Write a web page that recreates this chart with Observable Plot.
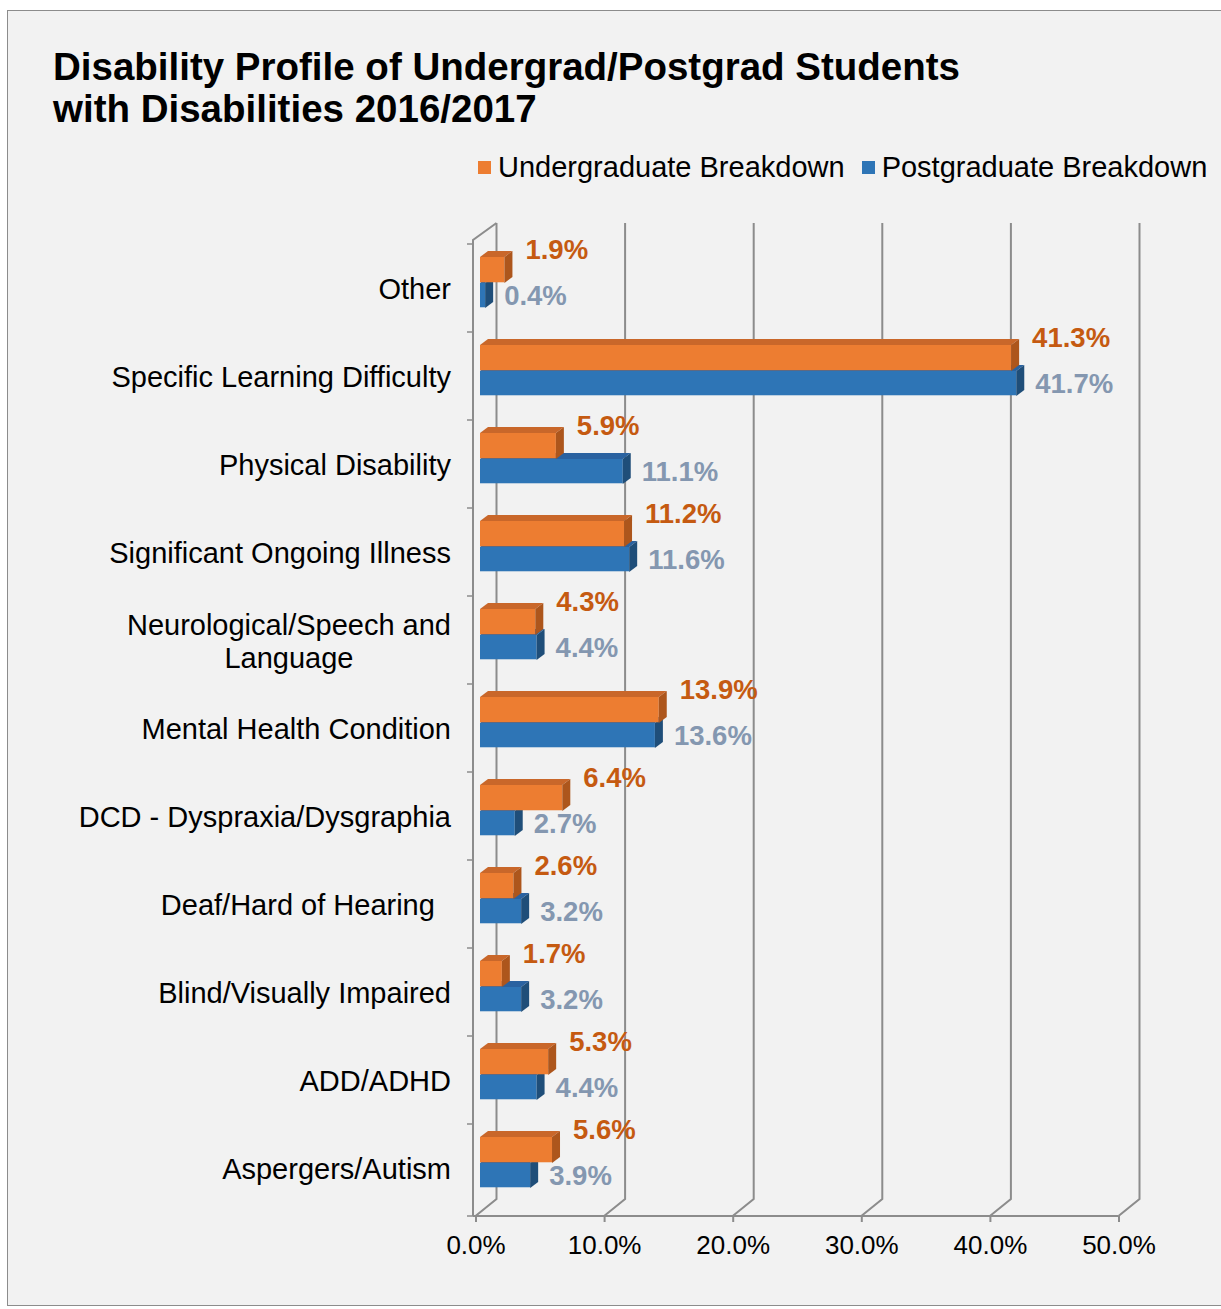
<!DOCTYPE html>
<html><head><meta charset="utf-8">
<script src="https://cdn.jsdelivr.net/npm/d3@7"></script>
<script src="https://cdn.jsdelivr.net/npm/@observablehq/plot@0.6"></script>
<style>
html,body{margin:0;padding:0;background:#fff;overflow:hidden;width:1221px;height:1309px;}
#frame{position:absolute;left:7px;top:10px;width:1240px;height:1294px;border:1.5px solid #8c8c8c;background:#f2f2f2;}
#title{position:absolute;left:53px;top:46px;font:bold 38.5px/42px "Liberation Sans",Arial,sans-serif;color:#000;white-space:nowrap}
#legend{position:absolute;left:478px;top:153px;font:29px/29px "Liberation Sans",Arial,sans-serif;display:flex;align-items:center;white-space:nowrap;color:#000}
.sw{display:inline-block;width:13px;height:13px;margin-right:7px}
.item{display:flex;align-items:center;margin-right:17px}
#chart{position:absolute;left:0;top:190px}
</style></head><body>
<div id="frame"></div>
<div id="title">Disability Profile of Undergrad/Postgrad Students<br>with Disabilities 2016/2017</div>
<div id="legend"></div>
<div id="chart"></div>
<script>
const categories = ["Other", "Specific Learning Difficulty", "Physical Disability", "Significant Ongoing Illness",
  "Neurological/Speech and\nLanguage", "Mental Health Condition", "DCD - Dyspraxia/Dysgraphia",
  "Deaf/Hard of Hearing\u00a0\u00a0", "Blind/Visually Impaired", "ADD/ADHD", "Aspergers/Autism"];
const undergrad = [1.9, 41.3, 5.9, 11.2, 4.3, 13.9, 6.4, 2.6, 1.7, 5.3, 5.6];
const postgrad  = [0.4, 41.7, 11.1, 11.6, 4.4, 13.6, 2.7, 3.2, 3.2, 4.4, 3.9];
const xTicks = [0, 10, 20, 30, 40, 50];
const seriesNames = ["Undergraduate Breakdown", "Postgraduate Breakdown"];

const rows = categories.map((c, i) => ({category: c, ug: undergrad[i], pg: postgrad[i]}));

const W = 1221, H = 1100, ML = 475.5, MR = 102.5, MT = 50, MB = 74;
const DX = 21, DY = -17;      // wall depth
const BX = 8, BY = -6;        // bar depth
const BAR_DX = 4.5;
const ORANGE = {front: "#ed7d31", top: "#c9672a", side: "#ad561c"};
const BLUE = {front: "#2e75b6", top: "#2a62a0", side: "#1f4e79"};
const GRID = "#8c8c8c";
const UG_TOP = 13, UG_BOT = 39, PG_TOP = 39, PG_BOT = 64;
const bw = (H - MT - MB) / categories.length;

// legend
const legend = document.getElementById("legend");
[[ORANGE.front, seriesNames[0]], [BLUE.front, seriesNames[1]]].forEach(([c, t]) => {
  const it = document.createElement("span"); it.className = "item";
  const sw = document.createElement("span"); sw.className = "sw"; sw.style.background = c;
  it.appendChild(sw); it.appendChild(document.createTextNode(t)); legend.appendChild(it);
});

function wall(index, scales, values, dim) {
  const g = d3.create("svg:g").attr("fill", "none").attr("stroke", GRID).attr("stroke-width", 2);
  const x = scales.x, y = scales.y;
  const top = dim.marginTop, bot = dim.height - dim.marginBottom;
  for (const t of xTicks) {
    const px = x(t);
    g.append("path").attr("d", `M${px + DX},${top + DY}V${bot + DY}L${px},${bot}`);
  }
  const x0 = x(0) - 2.5;
  g.append("path").attr("d", `M${x0},${bot}V${top}L${x(0) + DX},${top + DY}`);
  g.append("path").attr("d", `M${x0},${bot}H${x(xTicks[xTicks.length - 1])}`);
  const ty = categories.map(c => y(c)).concat([bot]);
  for (const v of ty) g.append("path").attr("stroke-width", 1.5).attr("d", `M${x0 - 6},${v}H${x0}`);
  return g.node();
}

function faces(key, col, t0, t1) {
  return (index, scales) => {
    const g = d3.create("svg:g");
    for (const r of rows) {
      const xa = scales.x(0) + BAR_DX, xb = scales.x(r[key]) + BAR_DX;
      const ya = scales.y(r.category) + t0, yb = scales.y(r.category) + t1;
      g.append("path").attr("fill", col.top).attr("d", `M${xa},${ya}L${xa + BX},${ya + BY}H${xb + BX}L${xb},${ya}Z`);
      g.append("path").attr("fill", col.side).attr("d", `M${xb},${ya}L${xb + BX},${ya + BY}V${yb + BY}L${xb},${yb}Z`);
    }
    return g.node();
  };
}

const chart = Plot.plot({
  width: W, height: H, marginLeft: ML, marginRight: MR, marginTop: MT, marginBottom: MB,
  style: {background: "transparent", fontFamily: "'Liberation Sans', Arial, sans-serif", color: "#000", maxWidth: "none", overflow: "visible"},
  x: {domain: [0, 50]},
  y: {domain: categories, padding: 0},
  marks: [
    wall,
    Plot.barX(rows, {y: "category", x: "pg", fill: BLUE.front, insetTop: PG_TOP, insetBottom: bw - PG_BOT, dx: BAR_DX}),
    faces("pg", BLUE, PG_TOP, PG_BOT),
    Plot.barX(rows, {y: "category", x: "ug", fill: ORANGE.front, insetTop: UG_TOP, insetBottom: bw - UG_BOT, dx: BAR_DX}),
    faces("ug", ORANGE, UG_TOP, UG_BOT),
    Plot.text(rows, {y: "category", x: "ug", text: d => d.ug.toFixed(1) + "%", textAnchor: "start", dx: 25, dy: -38,
      fill: "#c55a11", fontWeight: "bold", fontSize: 27.5}),
    Plot.text(rows, {y: "category", x: "pg", text: d => d.pg.toFixed(1) + "%", textAnchor: "start", dx: 23, dy: 8,
      fill: "#8497b0", fontWeight: "bold", fontSize: 27.5}),
    Plot.axisY({tickSize: 0, tickPadding: 25, fontSize: 29, lineHeight: 1.15, label: null, fill: "#000"}),
    Plot.axisX({ticks: xTicks, tickFormat: d => d.toFixed(1) + "%", tickSize: 6, tickPadding: 13, fontSize: 26,
      stroke: GRID, strokeWidth: 2, label: null, fill: "#000"})
  ]
});
document.getElementById("chart").appendChild(chart);

// center the two-line label like the original
for (const t of chart.querySelectorAll("text")) {
  if (t.textContent.startsWith("Neurological")) {
    const spans = t.querySelectorAll("tspan");
    if (spans.length > 1) {
      const w = spans[0].getComputedTextLength();
      t.setAttribute("text-anchor", "middle");
      spans.forEach(s => s.setAttribute("x", -w / 2));
    }
  }
}
</script>
</body></html>
